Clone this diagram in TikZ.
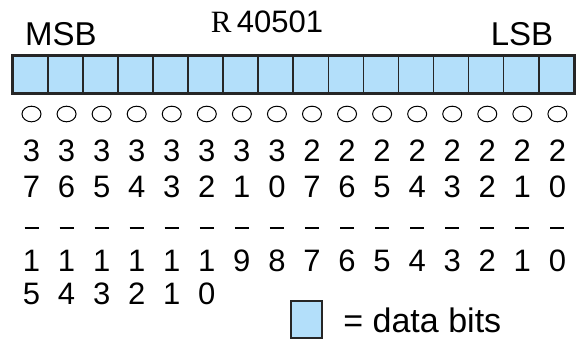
\documentclass[tikz,border=0pt]{standalone}
\usepackage{fontspec}
\setmainfont{Liberation Sans}
\newfontfamily\regfont{Liberation Serif}
\usetikzlibrary{positioning,shapes.geometric}
\definecolor{bitblue}{RGB}{179,223,250}

\begin{document}
\begin{tikzpicture}[
    x=0.5pt, y=-0.5pt,
    cell/.style={draw=black!85, line width=0.8pt, fill=bitblue, minimum width=17.53pt, minimum height=18.5pt, inner sep=0pt, anchor=north west},
    ring/.style={ellipse, draw, line width=0.5pt, minimum width=9.5pt, minimum height=7.8pt, inner sep=0pt},
    digit/.style={font=\fontsize{15.5}{17}\selectfont, inner sep=0pt},
    tag/.style={font=\fontsize{16.5}{18}\selectfont, inner sep=0pt}
]
\useasboundingbox (0,0) rectangle (581,338);

% register cells, bit 15 on the left
\foreach \i in {0,...,15} {
    \node[cell] (cell\i) at (12+35.06*\i,55) {};
}
\draw[line width=1.2pt, black!85] (cell0.north west) rectangle (cell15.south east);

\node[tag] (msb) at (61,34) {MSB};
\node[tag] (lsb) at (522,34) {LSB};
\node[tag, font=\fontsize{15.5}{17}\selectfont] (reg) at (267,22) {{\regfont R}\,40501};

% octal and decimal bit numbers
\foreach \i in {0,...,15} {
    \pgfmathsetmacro{\cx}{31.5+35.06*\i}
    \pgfmathtruncatemacro{\oct}{7-mod(\i,8)}
    \pgfmathtruncatemacro{\dec}{15-\i}
    \ifnum\i<8 \def\hi{3}\else\def\hi{2}\fi
    \node[ring] (ring\i) at (\cx,114) {};
    \node[digit] (octa\i) at (\cx,151) {\hi};
    \node[digit] (octb\i) at (\cx,187) {\oct};
    \draw[line width=0.9pt] (\cx-7,228) -- (\cx+7,228);
    \ifnum\dec>9
        \node[digit] (deca\i) at (\cx,261) {1};
        \pgfmathtruncatemacro{\low}{\dec-10}
        \node[digit] (decb\i) at (\cx,294) {\low};
    \else
        \node[digit] (deca\i) at (\cx,261) {\dec};
    \fi
}

% legend
\node[cell, minimum width=15.5pt] (key) at (290,300) {};
\node[tag, font=\fontsize{17}{19}\selectfont, anchor=west] (keytext) at (343,320) {= data bits};

\end{tikzpicture}
\end{document}
